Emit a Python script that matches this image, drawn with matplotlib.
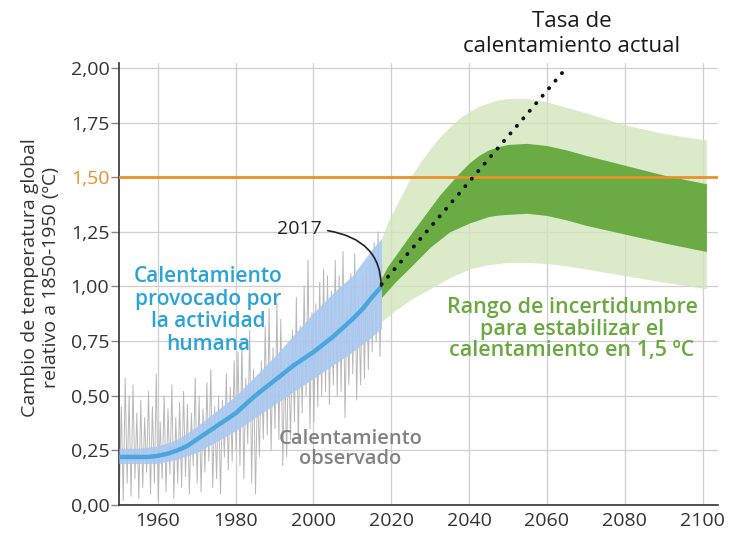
import numpy as np
import matplotlib
matplotlib.use("Agg")
import matplotlib.pyplot as plt
from matplotlib.ticker import FuncFormatter

plt.rcParams['font.family'] = ['Open Sans', 'DejaVu Sans']

# ---------------- data ----------------
human_years = [1950, 1952.5, 1955, 1957.5, 1960, 1962.5, 1965, 1967.5, 1970, 1972.5, 1975, 1977.5,
               1980, 1982.5, 1985, 1987.5, 1990, 1992.5, 1995, 1997.5, 2000, 2002.5, 2005, 2007.5,
               2010, 2012.5, 2015, 2017.5]
human_mid   = [0.22, 0.22, 0.22, 0.22, 0.225, 0.235, 0.25, 0.27, 0.30, 0.33, 0.36, 0.39,
               0.42, 0.46, 0.50, 0.535, 0.57, 0.605, 0.64, 0.67, 0.70, 0.735, 0.77, 0.81,
               0.85, 0.895, 0.95, 1.00]
human_low   = [0.19, 0.19, 0.19, 0.19, 0.19, 0.20, 0.21, 0.225, 0.24, 0.265, 0.29, 0.315,
               0.34, 0.37, 0.40, 0.43, 0.46, 0.49, 0.52, 0.55, 0.58, 0.61, 0.64, 0.67,
               0.70, 0.735, 0.77, 0.81]
human_high  = [0.26, 0.26, 0.26, 0.265, 0.27, 0.285, 0.30, 0.33, 0.36, 0.395, 0.43, 0.465,
               0.50, 0.545, 0.59, 0.635, 0.68, 0.73, 0.78, 0.83, 0.88, 0.925, 0.97, 1.01,
               1.05, 1.11, 1.17, 1.22]

obs_low = [0.05, 0.02, 0.10, 0.04, 0.12, 0.03, 0.08, 0.15, 0.05, 0.10,
           0.02, 0.12, 0.06, 0.14, 0.03, 0.10, 0.08, 0.13, 0.05, 0.18,
           0.10, 0.06, 0.15, 0.20, 0.08, 0.12, 0.05, 0.22, 0.16, 0.20,
           0.25, 0.18, 0.12, 0.28, 0.10, 0.05, 0.22, 0.30, 0.32, 0.25,
           0.35, 0.30, 0.18, 0.22, 0.30, 0.38, 0.28, 0.42, 0.50, 0.35,
           0.38, 0.45, 0.50, 0.52, 0.46, 0.55, 0.50, 0.52, 0.40, 0.55,
           0.60, 0.48, 0.55, 0.58, 0.62, 0.70, 0.75, 0.68]
obs_high = [0.45, 0.58, 0.50, 0.55, 0.42, 0.48, 0.40, 0.52, 0.45, 0.60,
            0.38, 0.50, 0.44, 0.55, 0.40, 0.47, 0.52, 0.46, 0.42, 0.58,
            0.50, 0.44, 0.56, 0.62, 0.45, 0.50, 0.48, 0.60, 0.54, 0.66,
            0.70, 0.75, 0.58, 0.80, 0.62, 0.55, 0.66, 0.82, 0.90, 0.72,
            0.92, 0.85, 0.64, 0.70, 0.80, 0.95, 0.82, 1.00, 1.12, 0.88,
            0.92, 1.02, 1.08, 1.05, 0.98, 1.12, 1.05, 1.16, 0.92, 1.06,
            1.15, 0.96, 1.04, 1.08, 1.12, 1.20, 1.25, 1.10]
obs_start_year = 1950

proj_years = [2017.5, 2019, 2021, 2023, 2025, 2027.5, 2030, 2032.5, 2035, 2037.5, 2040, 2042.5,
              2045, 2047.5, 2050, 2055, 2060, 2065, 2070, 2080, 2090, 2101]
light_high = [1.22, 1.29, 1.36, 1.43, 1.50, 1.57, 1.63, 1.685, 1.73, 1.77, 1.80, 1.825,
              1.84, 1.855, 1.86, 1.86, 1.845, 1.82, 1.795, 1.74, 1.70, 1.67]
light_low  = [0.84, 0.86, 0.89, 0.915, 0.94, 0.965, 0.99, 1.015, 1.04, 1.06, 1.08, 1.09,
              1.10, 1.105, 1.11, 1.11, 1.105, 1.095, 1.08, 1.05, 1.02, 0.99]
dark_high  = [1.04, 1.09, 1.14, 1.19, 1.24, 1.30, 1.36, 1.42, 1.47, 1.52, 1.565, 1.60,
              1.625, 1.64, 1.65, 1.655, 1.645, 1.625, 1.60, 1.555, 1.51, 1.47]
dark_low   = [0.95, 0.98, 1.02, 1.055, 1.09, 1.135, 1.18, 1.215, 1.25, 1.27, 1.29, 1.305,
              1.32, 1.327, 1.33, 1.335, 1.325, 1.305, 1.28, 1.24, 1.20, 1.16]

rate_years = [2017.5, 2065]
rate_vals  = [1.01, 2.0]

target = 1.5
x_ticks = [1960, 1980, 2000, 2020, 2040, 2060, 2080, 2100]
y_ticks = [0.0, 0.25, 0.5, 0.75, 1.0, 1.25, 1.5, 1.75, 2.0]

# ---------------- figure ----------------
fig = plt.figure(figsize=(7.29, 5.38), dpi=100)
ax = fig.add_axes([0.1632, 0.0613, 0.8218, 0.8217])
ax.set_xlim(1950, 2104)
ax.set_ylim(0, 2.023)

ax.set_xticks(x_ticks)
ax.set_yticks(y_ticks)
ax.grid(True, color='#cfcfcf', lw=0.9, zorder=0)
ax.set_axisbelow(True)

for s in ['top', 'right']:
    ax.spines[s].set_visible(False)
ax.spines['left'].set_color('#333333')
ax.spines['bottom'].set_color('#333333')
ax.spines['left'].set_linewidth(1.2)
ax.spines['bottom'].set_linewidth(1.2)

ax.yaxis.set_major_formatter(FuncFormatter(lambda v, p: f"{v:.2f}".replace('.', ',')))
ax.tick_params(axis='y', length=6, width=1, color='#888888', labelsize=14, labelcolor='#333333', pad=1)
ax.tick_params(axis='x', length=0, labelsize=14, labelcolor='#333333', pad=5)
for lbl, t, tick in zip(ax.get_yticklabels(), y_ticks, ax.yaxis.get_major_ticks()):
    if abs(t - target) < 1e-9:
        lbl.set_color('#E8912A')
        tick.tick1line.set_color('#E8912A')

ax.set_ylabel("Cambio de temperatura global\nrelativo a 1850-1950 (ºC)", fontsize=14, color='#333333',
              linespacing=1.2)
ax.yaxis.set_label_coords(-0.098, 0.515)

# observed zig-zag
obs_x, obs_y = [], []
for i, (lo, hi) in enumerate(zip(obs_low, obs_high)):
    yr = obs_start_year + i
    obs_x += [yr + 0.1, yr + 0.6]
    obs_y += [lo, hi]
ax.plot(obs_x, obs_y, color='#b8b8b8', lw=0.7, zorder=2)

# human band
ax.fill_between(human_years, human_low, human_high, color='#a9c9f1', alpha=0.9, lw=0, zorder=3)
ax.plot(human_years, human_mid, color='#4aa6df', lw=3.2, zorder=4, solid_capstyle='butt')

# projection bands
ax.fill_between(proj_years, light_low, light_high, color='#d3e5bc', alpha=0.8, lw=0, zorder=3)
ax.fill_between(proj_years, dark_low, dark_high, color='#6aac43', lw=0, zorder=4)

# 1.5 line
ax.axhline(target, color='#E8912A', lw=2, zorder=5)

# rate line (dotted)
ax.plot(rate_years, rate_vals, color='#111111', lw=2.8, linestyle=(0, (0.05, 2.5)),
        dash_capstyle='round', zorder=6, clip_on=False)

# annotations
ax.annotate("2017", xy=(2017.4, 1.0), xytext=(1996.5, 1.265), fontsize=14, color='#222222',
            ha='center', va='center', zorder=7,
            arrowprops=dict(arrowstyle='-', color='#222222', lw=1.2,
                            connectionstyle='angle3,angleA=0,angleB=90', shrinkA=2, shrinkB=0))

fig.text(572 / 729, 1 - 34 / 538, "Tasa de\ncalentamiento actual", ha='center', va='center',
         fontsize=16, color='#1a1a1a', linespacing=1.25)

ax.text(1973, 0.89, "Calentamiento\nprovocado por\nla actividad\nhumana", ha='center', va='center',
        fontsize=15, fontweight='semibold', color='#2aa3d8', linespacing=1.12, zorder=7)

ax.text(2009.5, 0.255, "Calentamiento\nobservado", ha='center', va='center',
        fontsize=14.5, fontweight='semibold', color='#828282', linespacing=1.0, zorder=7)

ax.text(2066.5, 0.805, "Rango de incertidumbre\npara estabilizar el\ncalentamiento en 1,5 ºC",
        ha='center', va='center', fontsize=15.5, fontweight='semibold', color='#6aa840',
        linespacing=1.05, zorder=7)

fig.savefig("out.png", dpi=100)
